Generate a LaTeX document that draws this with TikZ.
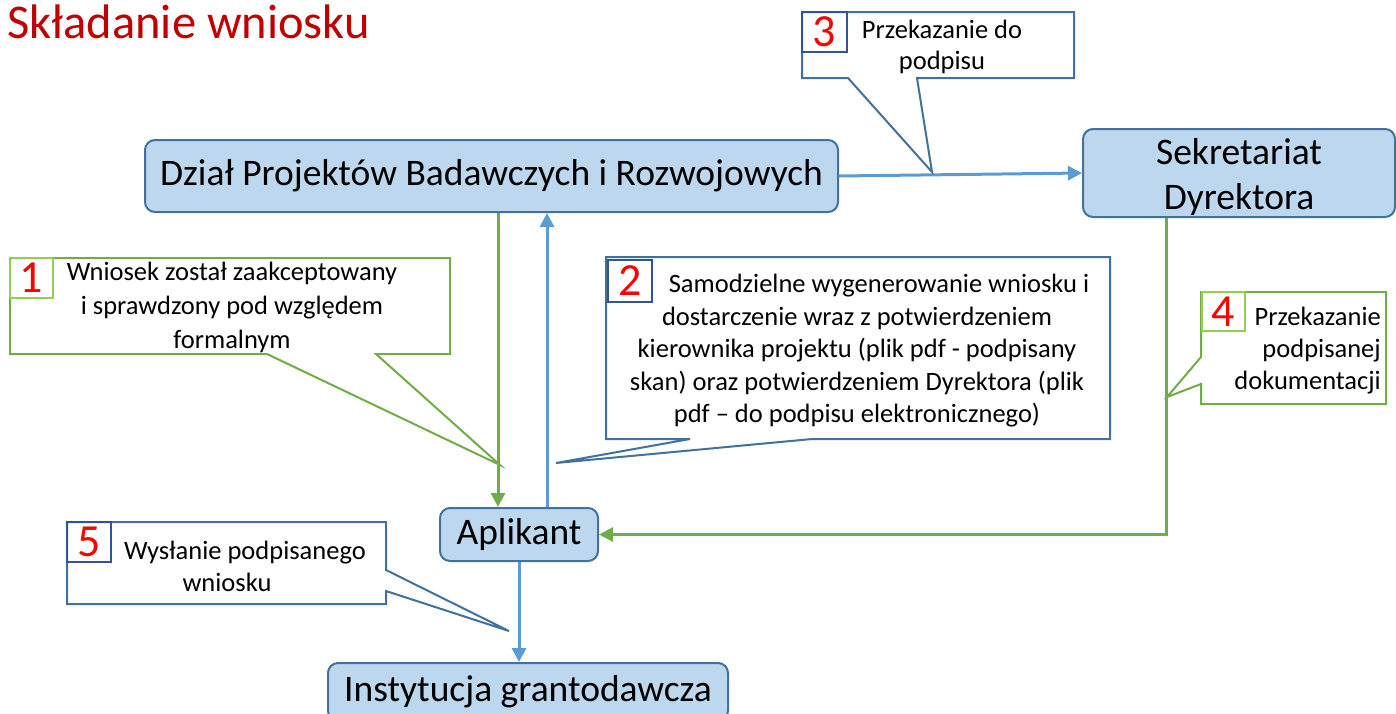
\documentclass[tikz,border=0pt]{standalone}
\usepackage{fontspec}
\setmainfont{Carlito}
\usetikzlibrary{arrows.meta,calc}
\definecolor{boxfill}{HTML}{BDD7EE}
\definecolor{boxdraw}{HTML}{41719C}
\definecolor{barrow}{HTML}{5B9BD5}
\definecolor{garrow}{HTML}{70AD47}
\definecolor{lgreen}{HTML}{92D050}
\definecolor{dblue}{HTML}{2F5597}
\definecolor{titlered}{HTML}{C00000}
\tikzset{
  procbox/.style={draw=boxdraw, fill=boxfill, line width=2pt, rounded corners=10pt, inner sep=0pt, align=center, font=\fontsize{37.5}{45}\selectfont},
  bluearr/.style={draw=barrow, line width=3pt, -{Triangle[length=14pt,width=14pt]}},
  greenarr/.style={draw=garrow, line width=3pt, -{Triangle[length=14pt,width=14pt]}},
  gcallout/.style={draw=garrow, fill=white, line width=2pt, line join=miter},
  bcallout/.style={draw=boxdraw, fill=white, line width=2pt, line join=miter},
  gnum/.style={draw=lgreen, line width=2pt, inner sep=0pt, text=red, font=\fontsize{46}{46}\selectfont},
  bnum/.style={draw=dblue, line width=2pt, inner sep=0pt, text=red, font=\fontsize{46}{46}\selectfont},
  ctext/.style={inner sep=0pt, font=\fontsize{26.5}{34}\selectfont},
}
\begin{document}
\begin{tikzpicture}[x=1pt,y=-1pt]
\useasboundingbox (0,0) rectangle (1396,713);
\clip (0,0) rectangle (1396,713);

% title
\node[anchor=west, text=titlered, font=\fontsize{48.5}{48.5}\selectfont, inner sep=0pt] (title) at (7,22) {Składanie wniosku};

% process boxes
\node[procbox, minimum width=693pt, minimum height=72pt] (dp) at (491.5,176) {Dział Projektów Badawczych i Rozwojowych};
\node[procbox, minimum width=312pt, minimum height=88pt] (sek) at (1239,173) {\rule{0pt}{34pt}Sekretariat\\Dyrektora};
\node[procbox, minimum width=158pt, minimum height=53pt] (ap) at (519,534.5) {Aplikant};
\node[procbox, minimum width=400pt, minimum height=58pt] (inst) at (528,692) {Instytucja grantodawcza};

% connectors
\draw[greenarr] ([xshift=6.5pt]dp.south) -- ([xshift=6.5pt]dp.south |- ap.north);
\draw[bluearr] ([xshift=28pt]ap.north) -- ([xshift=28pt]ap.north |- dp.south);
\draw[bluearr] (dp.east) -- (sek.west);
\draw[greenarr, rounded corners=0pt] ([xshift=-73pt]sek.south) |- (ap.east);
\draw[bluearr] (ap.south) -- (ap.south |- inst.north);

% callout 1
\draw[gcallout] (10,258) -- (450,258) -- (450,354) -- (376,354) -- (500,465) -- (267,354) -- (10,354) -- cycle;
\node[gnum, minimum width=43pt, minimum height=40pt] (n1) at (31.5,278) {1};
\node[ctext, align=center] (t1) at (232,307) {Wniosek został zaakceptowany\\i sprawdzony pod względem\\formalnym};

% callout 2
\draw[bcallout] (606,257) -- (1110,257) -- (1110,439) -- (812,439) -- (556,463) -- (690,439) -- (606,439) -- cycle;
\node[bnum, minimum width=44pt, minimum height=42pt] (n2) at (630,281) {2};
\node[ctext, align=center, font=\fontsize{26.5}{32.5}\selectfont] (t2) at (857,351) {\hspace*{44pt}Samodzielne wygenerowanie wniosku i\\dostarczenie wraz z potwierdzeniem\\kierownika projektu (plik pdf - podpisany\\skan) oraz potwierdzeniem Dyrektora (plik\\pdf – do podpisu elektronicznego)};

% callout 3
\draw[bcallout] (802,12) -- (1074,12) -- (1074,78) -- (917,78) -- (932,172) -- (848,78) -- (802,78) -- cycle;
\node[bnum, minimum width=45pt, minimum height=40pt] (n3) at (824.5,32) {3};
\node[ctext, align=center, font=\fontsize{26.5}{31.5}\selectfont] (t3) at (942,47) {Przekazanie do\\podpisu};

% callout 4
\draw[gcallout] (1201,292) -- (1386,292) -- (1386,404) -- (1201,404) -- (1201,384) -- (1167,397) -- (1201,357) -- cycle;
\node[gnum, minimum width=43pt, minimum height=39pt] (n4) at (1223.5,311.5) {4};
\node[ctext, align=right, anchor=east, font=\fontsize{26.5}{32}\selectfont] (t4) at (1381,351) {Przekazanie\\podpisanej\\dokumentacji};

% callout 5
\draw[bcallout] (67,522) -- (386,522) -- (386,570) -- (509,631) -- (386,591) -- (386,604) -- (67,604) -- cycle;
\node[bnum, minimum width=44pt, minimum height=40pt] (n5) at (89,542) {5};
\node[ctext, align=center, font=\fontsize{26.5}{32}\selectfont] (t5) at (227,566) {\hspace*{36pt}Wysłanie podpisanego\\wniosku};
\end{tikzpicture}
\end{document}
